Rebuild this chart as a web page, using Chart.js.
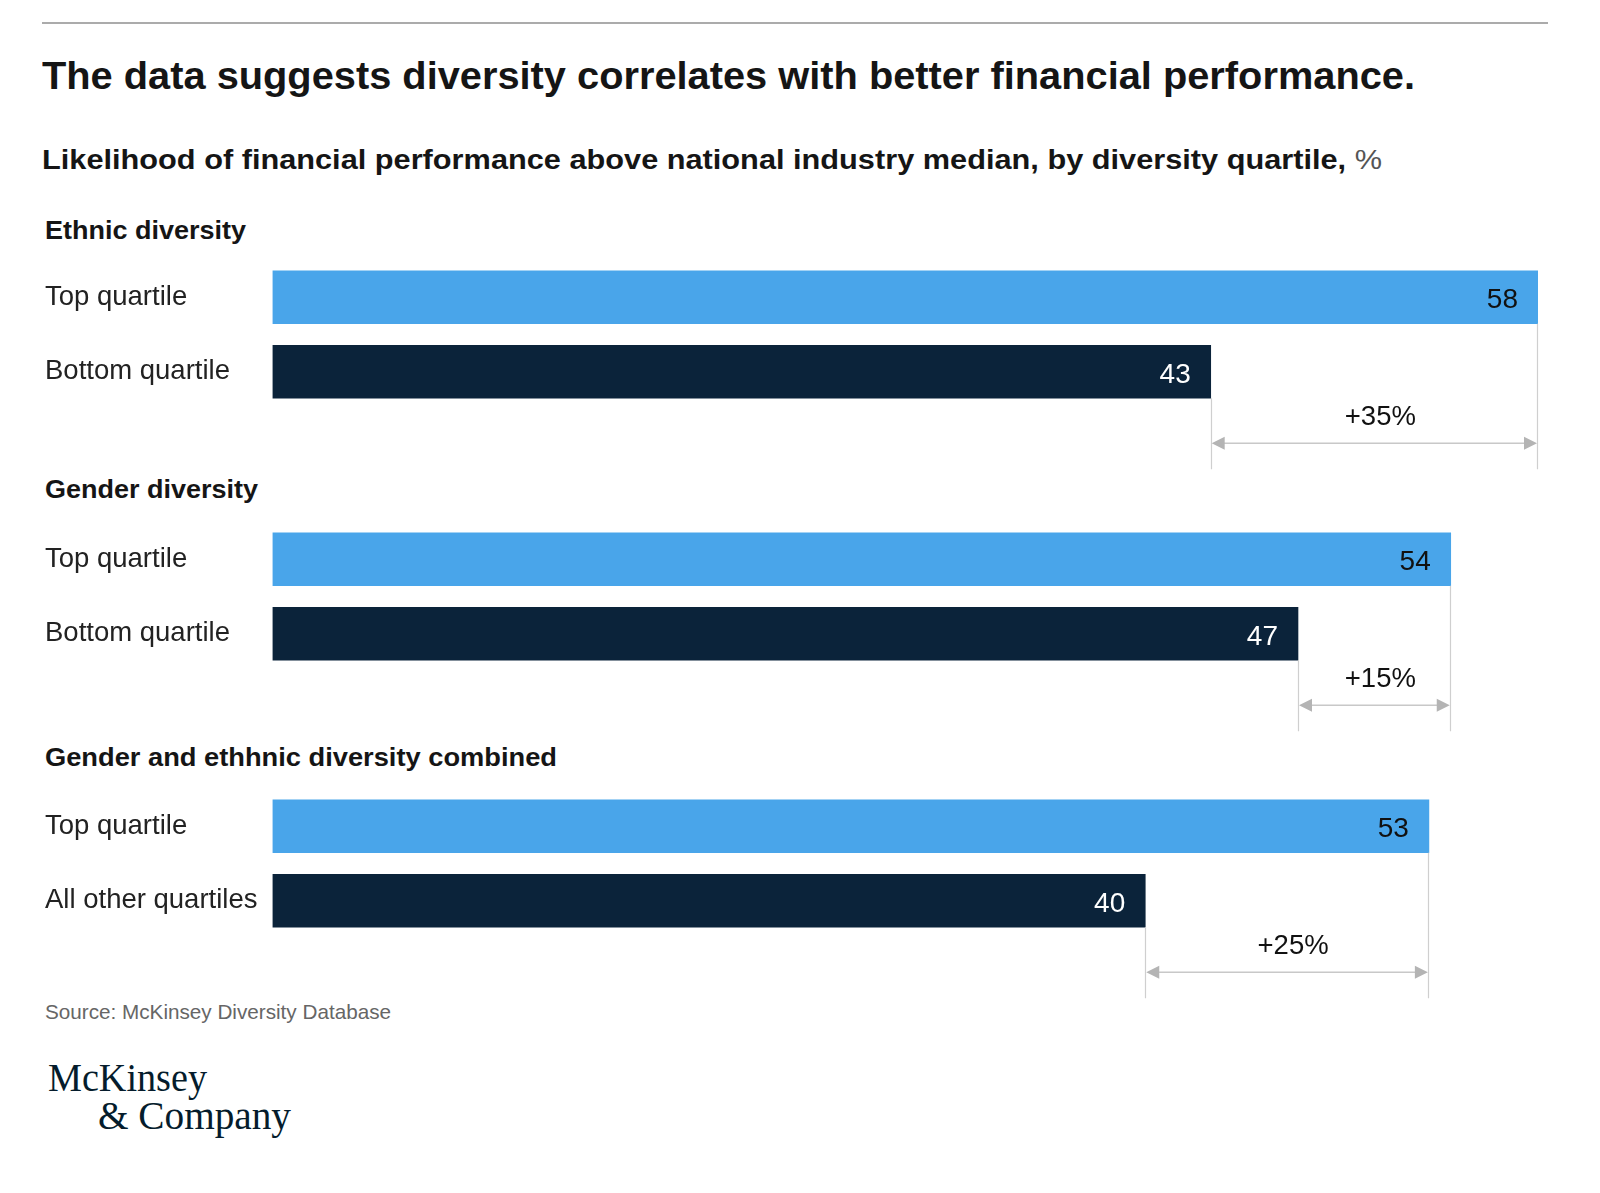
<!DOCTYPE html>
<html>
<head>
<meta charset="utf-8">
<script src="https://cdn.jsdelivr.net/npm/chart.js@4.4.1/dist/chart.umd.min.js"></script>
<style>
  html, body { margin: 0; padding: 0; background: #ffffff; }
  body { width: 1600px; height: 1193px; position: relative; overflow: hidden; }
  .t { position: absolute; white-space: nowrap; display: inline-block; transform-origin: 0 0; }
  #rule { position: absolute; left: 42px; top: 22px; width: 1506px; height: 2px; background: #ababab; }
  canvas { position: absolute; left: 0; }
</style>
</head>
<body>
<div id="rule"></div>
<script>
// ---------- DATA ----------
const chartTitle = 'The data suggests diversity correlates with better financial performance.';
const chartSubtitle = 'Likelihood of financial performance above national industry median, by diversity quartile,';
const subtitleUnit = '%';
const groupTitles = ['Ethnic diversity', 'Gender diversity', 'Gender and ethhnic diversity combined'];
const topLabels = ['Top quartile', 'Top quartile', 'Top quartile'];
const bottomLabels = ['Bottom quartile', 'Bottom quartile', 'All other quartiles'];
const topValues = [58, 54, 53];
const bottomValues = [43, 47, 40];
const upliftLabels = ['+35%', '+15%', '+25%'];
const sourceText = 'Source: McKinsey Diversity Database';
const logoLines = ['McKinsey', '& Company'];

// ---------- STYLE / LAYOUT ----------
const BLUE = '#49a5ea';
const NAVY = '#0b233a';
const SANS = "'Liberation Sans', Arial, sans-serif";
const SERIF = "'Liberation Serif', 'Times New Roman', serif";

function addText(html, o) {
  const el = document.createElement('div');
  el.className = 't';
  el.innerHTML = html;
  const k = o.serif ? 0.8375 : 0.8465;
  el.style.fontFamily = o.serif ? SERIF : SANS;
  el.style.fontSize = o.size + 'px';
  el.style.lineHeight = o.size + 'px';
  el.style.fontWeight = o.weight || 'normal';
  el.style.color = o.color || '#111';
  el.style.left = o.x + 'px';
  el.style.top = (o.baseline - k * o.size) + 'px';
  document.body.appendChild(el);
  if (o.width) {
    const w = el.getBoundingClientRect().width;
    if (w > 0) el.style.transform = 'scaleX(' + (o.width / w) + ')';
  }
  return el;
}

addText(chartTitle, { x: 42, baseline: 89.3, size: 39.5, weight: 'bold', color: '#151515', width: 1373 });
addText(chartSubtitle + ' <span style="font-weight:normal;color:#555">' + subtitleUnit + '</span>',
  { x: 42, baseline: 169.3, size: 28, weight: 'bold', color: '#151515', width: 1340 });

const headerBaselines = [238.7, 498.3, 766];
const headerWidths = [201, 213, 512];
groupTitles.forEach((t, i) => addText(t, { x: 45, baseline: headerBaselines[i], size: 26, weight: 'bold', color: '#151515', width: headerWidths[i] }));

addText(sourceText, { x: 45, baseline: 1018.3, size: 21, color: '#666', width: 346 });
addText(logoLines[0], { x: 48, baseline: 1091, size: 39, serif: true, color: '#051c2c', width: 159 });
addText(logoLines[1], { x: 97.5, baseline: 1128.3, size: 39, serif: true, color: '#051c2c', width: 193 });

// ---------- CHARTS ----------
const chartTops = [260, 522, 789];   // wanted top of each plot area
const plotHeight = 149;
const padBottom = 91;
const xMax = Math.max(...topValues);

function bracketPlugin(g) {
  return {
    id: 'bracket' + g,
    afterDatasetsDraw(chart) {
      const ctx = chart.ctx;
      const meta = chart.getDatasetMeta(0);
      const xs = chart.scales.x;
      const vals = chart.data.datasets[0].data;
      ctx.save();
      ctx.font = '28px ' + SANS;
      ctx.textAlign = 'right';
      ctx.textBaseline = 'alphabetic';
      meta.data.forEach((bar, i) => {
        ctx.fillStyle = i === 0 ? '#111111' : '#ffffff';
        ctx.fillText(String(vals[i]), bar.x - 20, bar.y + 11);
      });
      const topBar = meta.data[0], botBar = meta.data[1];
      const xTop = xs.getPixelForValue(vals[0]);
      const xBot = xs.getPixelForValue(vals[1]);
      const topBottom = topBar.y + topBar.height / 2;
      const botBottom = botBar.y + botBar.height / 2;
      const yEnd = botBottom + 71;
      const yArrow = botBottom + 45;
      ctx.strokeStyle = '#cfcfcf';
      ctx.lineWidth = 1.2;
      ctx.beginPath();
      ctx.moveTo(Math.round(xTop) - 0.5, topBottom);
      ctx.lineTo(Math.round(xTop) - 0.5, yEnd);
      ctx.moveTo(Math.round(xBot) + 0.5, botBottom);
      ctx.lineTo(Math.round(xBot) + 0.5, yEnd);
      ctx.stroke();
      const ah = 13, aw = 6.5;
      ctx.strokeStyle = '#c8c8c8';
      ctx.lineWidth = 1.6;
      ctx.beginPath();
      ctx.moveTo(xBot + ah, yArrow);
      ctx.lineTo(xTop - ah, yArrow);
      ctx.stroke();
      ctx.fillStyle = '#b4b4b4';
      ctx.beginPath();
      ctx.moveTo(xBot + 1, yArrow);
      ctx.lineTo(xBot + 1 + ah, yArrow - aw);
      ctx.lineTo(xBot + 1 + ah, yArrow + aw);
      ctx.closePath();
      ctx.fill();
      ctx.beginPath();
      ctx.moveTo(xTop - 1, yArrow);
      ctx.lineTo(xTop - 1 - ah, yArrow - aw);
      ctx.lineTo(xTop - 1 - ah, yArrow + aw);
      ctx.closePath();
      ctx.fill();
      ctx.fillStyle = '#111111';
      ctx.font = '27.5px ' + SANS;
      ctx.textAlign = 'center';
      ctx.fillText(upliftLabels[g], (xTop + xBot) / 2 + 6, botBottom + 27);
      ctx.restore();
    }
  };
}

for (let g = 0; g < groupTitles.length; g++) {
  const c = document.createElement('canvas');
  const h = plotHeight + padBottom;
  c.width = 1600; c.height = h;
  c.style.width = '1600px'; c.style.height = h + 'px';
  c.style.top = chartTops[g] + 'px';
  document.body.appendChild(c);
  const chart = new Chart(c, {
    type: 'bar',
    data: {
      labels: [topLabels[g], bottomLabels[g]],
      datasets: [{
        data: [topValues[g], bottomValues[g]],
        backgroundColor: [BLUE, NAVY],
        borderWidth: 0,
        barThickness: 53
      }]
    },
    options: {
      indexAxis: 'y',
      responsive: false,
      animation: false,
      events: [],
      layout: { padding: { left: 45, right: 62, top: 0, bottom: padBottom } },
      plugins: { legend: { display: false }, tooltip: { enabled: false } },
      scales: {
        x: { type: 'linear', min: 0, max: xMax, display: false },
        y: {
          type: 'category',
          grid: { display: false },
          border: { display: false },
          ticks: {
            crossAlign: 'far',
            color: '#222222',
            padding: 0,
            labelOffset: 0,
            font: { family: 'Liberation Sans', size: 27.5, weight: 'normal' }
          },
          afterFit(scale) {
            scale.width = 227.5;
            scale.paddingTop = 0;
            scale.paddingBottom = 0;
          }
        }
      }
    },
    plugins: [bracketPlugin(g)]
  });
  // safety: if the library still reserved space above the plot area, compensate
  const areaH = chart.chartArea.bottom - chart.chartArea.top;
  if (chart.chartArea.top > 0.5 || Math.abs(areaH - plotHeight) > 0.5) {
    const newH = Math.round(h + (plotHeight - areaH));
    c.style.height = newH + 'px';
    chart.resize(1600, newH);
    c.style.top = (chartTops[g] - chart.chartArea.top) + 'px';
  }
}
</script>
</body>
</html>
